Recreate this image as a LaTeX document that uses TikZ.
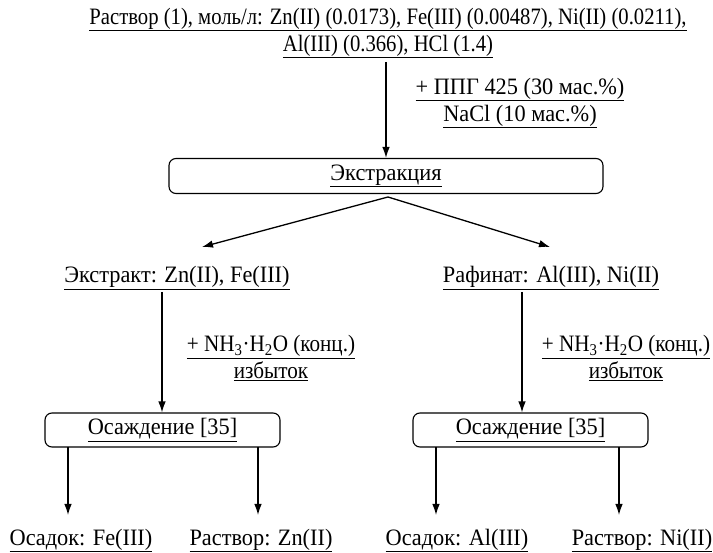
\documentclass[tikz,border=0pt]{standalone}
\usepackage{fontspec}
\setmainfont{Liberation Serif}[FakeStretch=0.95]
\newfontfamily\topfont{Liberation Serif}[FakeStretch=0.88]
\newfontfamily\narfont{Liberation Serif}[FakeStretch=0.9]
\usetikzlibrary{arrows.meta}
\begin{document}
\begin{tikzpicture}[x=1pt,y=-1pt,
  every node/.style={font=\fontsize{23.5}{27}\selectfont, inner sep=0pt},
  lbl/.style={align=center},
  outl/.style={anchor=base},
  proc/.style={draw, line width=1.1pt, rounded corners=7pt},
  arr/.style={line width=1.3pt, -{Latex[length=11pt,width=7.5pt]}}]
\useasboundingbox (0,0) rectangle (713,553);
% top
\node[lbl, font=\fontsize{23.5}{27}\topfont] (top) at (388,33) {\underline{Раствор (1), моль/л: Zn(II) (0.0173), Fe(III) (0.00487), Ni(II) (0.0211),}\\\underline{Al(III) (0.366), HCl (1.4)}};
\coordinate (topout) at (386,62);
\node[proc, minimum width=434pt, minimum height=35pt] (ex) at (386,176) {\underline{Экстракция}};
\draw[arr] (topout) -- (ex.north -| topout);
\node[lbl] (add1) at (520,103) {\underline{+ ППГ 425 (30 мас.\%)}\\\underline{NaCl (10 мас.\%)}};
% split
\coordinate (split) at (388,197);
\node (extr) at (177,278) {\underline{Экстракт: Zn(II), Fe(III)}};
\node (raf) at (551,278) {\underline{Рафинат: Al(III), Ni(II)}};
\coordinate (lt) at (202,247);
\coordinate (rt) at (550,247);
\draw[arr] (split) -- (lt);
\draw[arr] (split) -- (rt);
% precipitation boxes
\node[proc, minimum width=235pt, minimum height=34pt] (os1) at (162.5,430) {\underline{Осаждение [35]}};
\node[proc, minimum width=235pt, minimum height=34pt] (os2) at (530.5,430) {\underline{Осаждение [35]}};
\coordinate (l1) at (162,292);
\coordinate (r1) at (522,292);
\draw[arr] (l1) -- (l1 |- os1.north);
\draw[arr] (r1) -- (r1 |- os2.north);
\node[lbl, font=\fontsize{23.5}{27}\narfont] (na1) at (271,358) {\underline{+ NH\textsubscript{3}·H\textsubscript{2}O (конц.)}\\\underline{избыток}};
\node[lbl, font=\fontsize{23.5}{27}\narfont] (na2) at (626,358) {\underline{+ NH\textsubscript{3}·H\textsubscript{2}O (конц.)}\\\underline{избыток}};
% outputs
\node[outl] (p1) at (81,545) {\underline{Осадок: Fe(III)}};
\node[outl] (s1) at (261,545) {\underline{Раствор: Zn(II)}};
\node[outl] (p2) at (457,545) {\underline{Осадок: Al(III)}};
\node[outl] (s2) at (642,545) {\underline{Раствор: Ni(II)}};
\coordinate (a1) at (68,447);
\coordinate (a2) at (258,447);
\coordinate (a3) at (436,447);
\coordinate (a4) at (619,447);
\draw[arr] (a1) -- ++(0,68);
\draw[arr] (a2) -- ++(0,68);
\draw[arr] (a3) -- ++(0,68);
\draw[arr] (a4) -- ++(0,68);
\end{tikzpicture}
\end{document}
